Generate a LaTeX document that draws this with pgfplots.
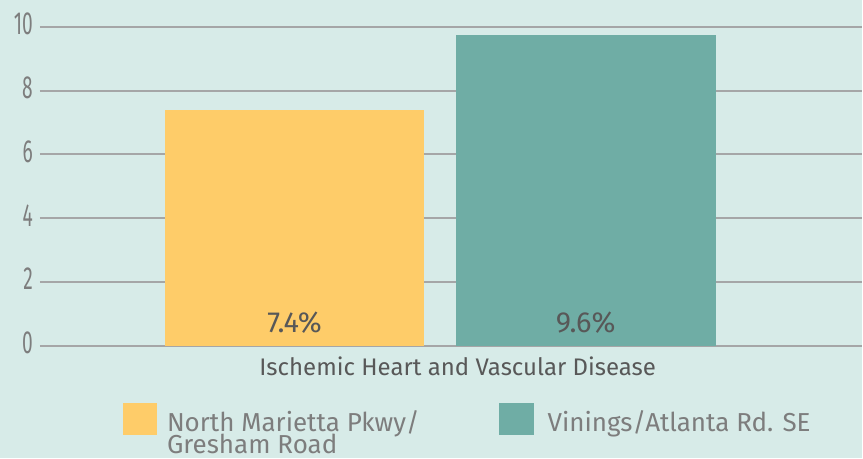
\documentclass[border=0pt]{standalone}
\usepackage{fontspec}
\setmainfont{Fira Sans}
\usepackage{graphicx}
\usepackage{pgfplots}
\pgfplotsset{compat=1.18}
\definecolor{bgteal}{HTML}{D7EBE8}
\definecolor{gridgray}{HTML}{A5A6A7}
\definecolor{baryellow}{HTML}{FECC69}
\definecolor{barteal}{HTML}{6FADA5}
\definecolor{ticktext}{HTML}{7D7D7D}
\definecolor{darktext}{HTML}{585858}
\begin{document}
\begin{tikzpicture}[x=1pt,y=1pt]
\fill[bgteal] (0,0) rectangle (863,459);
\begin{axis}[
  at={(40pt,113pt)}, anchor=south west,
  scale only axis, width=823pt, height=319pt,
  xmin=-0.875, xmax=1.949, ymin=0, ymax=10,
  axis line style={draw=none},
  major tick length=0pt,
  xtick=\empty,
  ytick={0,2,...,10},
  ymajorgrids, grid style={line width=2pt, gridgray},
  /pgf/number format/assume math mode=true,
  yticklabel={\scalebox{0.6}[1]{\pgfmathprintnumber{\tick}}},
  yticklabel style={font=\fontsize{32}{32}\selectfont, text=ticktext,
    anchor=east, inner sep=0pt, xshift=-7pt, yshift=3pt},
  clip=false,
]
\addplot[ybar, bar width=0.892, bar shift=0pt, fill=baryellow, draw=none]
  coordinates {(0,7.4)};
\addplot[ybar, bar width=0.892, bar shift=0pt, fill=barteal, draw=none]
  coordinates {(1,9.75)};
\node[anchor=base, text=darktext, font=\fontsize{29}{29}\selectfont, yshift=13pt]
  at (axis cs:0,0) {7.4\%};
\node[anchor=base, text=darktext, font=\fontsize{29}{29}\selectfont, yshift=13pt]
  at (axis cs:1,0) {9.6\%};
\node[anchor=base, text=darktext, font=\fontsize{24}{24}\selectfont, yshift=-30pt]
  at (axis cs:0.56,0) {Ischemic Heart and Vascular Disease};
\end{axis}
% legend
\fill[baryellow] (123,24) rectangle (157,56);
\fill[barteal] (500,24) rectangle (535,56);
\node[anchor=base west, inner sep=0pt, text=ticktext, font=\fontsize{26}{26}\selectfont]
  at (167,27) {North Marietta Pkwy/};
\node[anchor=base west, inner sep=0pt, text=ticktext, font=\fontsize{26}{26}\selectfont]
  at (167,5) {Gresham Road};
\node[anchor=base west, inner sep=0pt, text=ticktext, font=\fontsize{26}{26}\selectfont]
  at (548,27) {Vinings/Atlanta Rd. SE};
\end{tikzpicture}
\end{document}
